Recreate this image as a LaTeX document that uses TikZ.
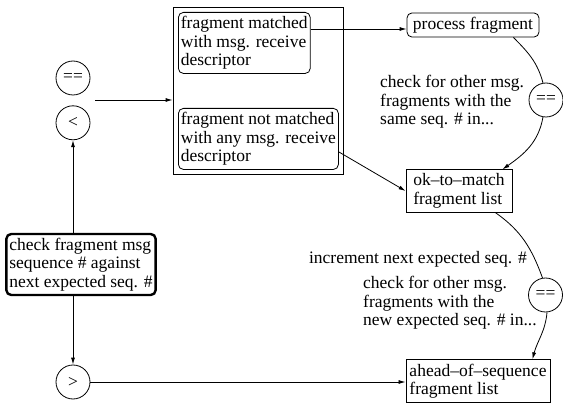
\documentclass[tikz,border=0pt]{standalone}
\usepackage{fontspec}
\setmainfont{Liberation Serif}
\usetikzlibrary{arrows.meta,positioning,fit}

\begin{document}
\begin{tikzpicture}[x=1pt,y=1pt,
  >={Latex[length=7pt,width=4pt]},
  every node/.style={font=\fontsize{17.5}{18.5}\selectfont},
  box/.style={draw,line width=.8pt,align=left,inner xsep=2.5pt,inner ysep=4pt},
  rbox/.style={box,rounded corners=5pt},
  cmp/.style={draw,line width=.8pt,circle,minimum size=34pt,inner sep=0pt},
  note/.style={align=left,inner sep=0pt},
  link/.style={->,line width=.8pt}]
\useasboundingbox (0,0) rectangle (563,-409);

% comparison results
\node[cmp] (eq) at (73,-78) {==};
\node[cmp,below=10pt of eq] (lt) {<};
\node[cmp] (gt) at (73,-382) {>};
\node[rbox,line width=2.4pt,inner xsep=3pt] (chk) at (81,-264.5)
  {check fragment msg\\sequence \# against\\next expected seq. \#};

% receive descriptor matching
\node[rbox,anchor=north west] (matched) at (178,-12)
  {fragment matched\\with msg. receive\\descriptor};
\node[rbox,anchor=north west] (unmatched) at (178,-108)
  {fragment not matched\\with any msg. receive\\descriptor};
\node[draw,line width=.8pt,inner sep=5pt,fit=(matched)(unmatched)] (rcv) {};

% lists on the right
\node[rbox,minimum width=132pt] (proc) at (473,-25) {process fragment};
\node[box,minimum width=106pt] (okm) at (459,-191) {ok--to--match\\fragment list};
\node[box,inner xsep=3.5pt] (ahead) at (478,-381) {ahead--of--sequence\\fragment list};
\node[cmp] (same) at (546,-100) {==};
\node[cmp] (next) at (545.5,-295) {==};

\node[note,anchor=west] (sameq) at (380,-102)
  {check for other msg.\\fragments with the\\same seq. \# in...};
\node[note,anchor=east] (incr) at (527,-259) {increment next expected seq. \#};
\node[note,anchor=west] (newq) at (363,-303)
  {check for other msg.\\fragments with the\\new expected seq. \# in...};

% connectors
\coordinate (split) at (95,-100);
\draw[link] (split) -- (split -| rcv.west);
\draw[link] (lt.south |- chk.north) -- (lt.south);
\draw[link] (gt.north |- chk.south) -- (gt.north);
\draw[link] (gt.east) -- (gt.east -| ahead.west);
\draw[link] ([yshift=-4pt]proc.west -| matched.east) -- ([yshift=-4pt]proc.west);
\draw[link] ([yshift=-13pt]unmatched.east) -- (okm.west);

\draw[line width=.8pt] ([xshift=-26pt]proc.south east) to[out=-45,in=105] (same.100);
\draw[link] (same.-100) to[out=-100,in=35] ([xshift=-10pt]okm.north east);
\draw[line width=.8pt] ([xshift=-17pt]okm.south east) to[out=-35,in=110] (next.100);
\draw[link] (next.-85) to[out=-95,in=75] ([xshift=-18pt]ahead.north east);
\end{tikzpicture}
\end{document}
